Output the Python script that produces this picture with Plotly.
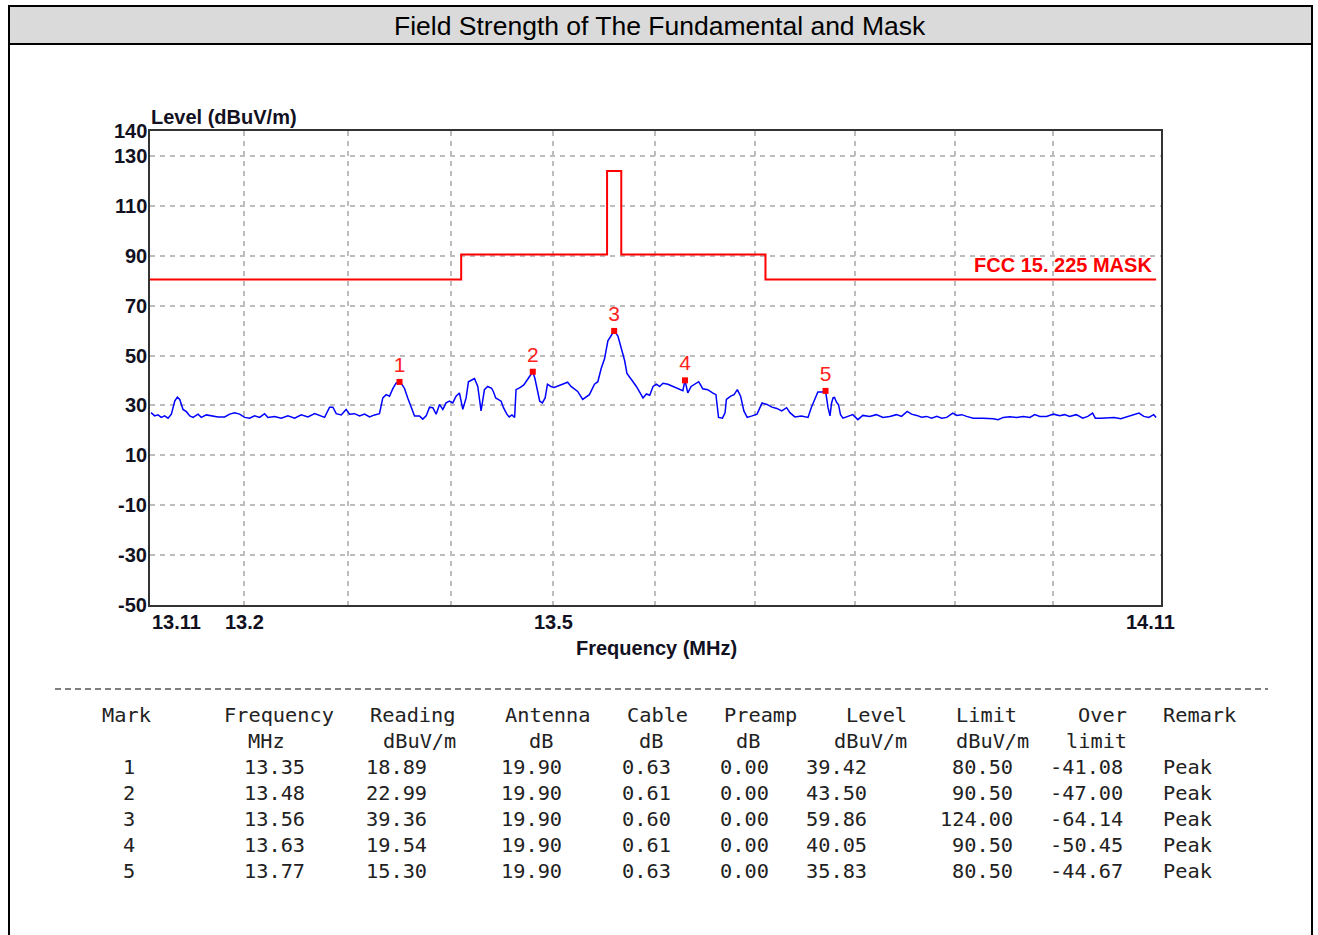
import numpy as np
import plotly.graph_objects as go

# ---------------- data ----------------
freq_mhz = [
    13.1110, 13.1145, 13.1176, 13.1208, 13.1240, 13.1272, 13.1304, 13.1336, 13.1361, 13.1384,
    13.1415, 13.1447, 13.1480, 13.1511, 13.1559, 13.1590, 13.1638, 13.1686, 13.1750, 13.1814,
    13.1862, 13.1910, 13.1957, 13.2005, 13.2053, 13.2101, 13.2149, 13.2197, 13.2229, 13.2293,
    13.2357, 13.2421, 13.2486, 13.2550, 13.2614, 13.2679, 13.2727, 13.2775, 13.2823, 13.2855,
    13.2887, 13.2935, 13.2983, 13.3016, 13.3064, 13.3113, 13.3161, 13.3210, 13.3258, 13.3306,
    13.3338, 13.3371, 13.3403, 13.3435, 13.3467, 13.3500, 13.3516, 13.3548, 13.3580, 13.3612,
    13.3646, 13.3694, 13.3726, 13.3759, 13.3792, 13.3824, 13.3856, 13.3889, 13.3921, 13.3953,
    13.3986, 13.4018, 13.4050, 13.4083, 13.4116, 13.4148, 13.4171, 13.4203, 13.4230, 13.4262,
    13.4294, 13.4327, 13.4359, 13.4397, 13.4414, 13.4437, 13.4463, 13.4490, 13.4513, 13.4546,
    13.4569, 13.4596, 13.4622, 13.4636, 13.4679, 13.4712, 13.4745, 13.4778, 13.4800, 13.4821,
    13.4844, 13.4868, 13.4894, 13.4921, 13.4944, 13.4977, 13.5010, 13.5060, 13.5099, 13.5142,
    13.5175, 13.5208, 13.5241, 13.5290, 13.5323, 13.5356, 13.5406, 13.5439, 13.5472, 13.5505,
    13.5538, 13.5571, 13.5600, 13.5637, 13.5670, 13.5703, 13.5726, 13.5753, 13.5786, 13.5819,
    13.5852, 13.5885, 13.5918, 13.5951, 13.5984, 13.6016, 13.6049, 13.6082, 13.6131, 13.6180,
    13.6230, 13.6279, 13.6300, 13.6328, 13.6361, 13.6394, 13.6436, 13.6476, 13.6525, 13.6574,
    13.6607, 13.6633, 13.6672, 13.6698, 13.6711, 13.6754, 13.6787, 13.6820, 13.6852, 13.6885,
    13.6918, 13.6967, 13.7016, 13.7066, 13.7115, 13.7164, 13.7213, 13.7262, 13.7311, 13.7344,
    13.7393, 13.7459, 13.7525, 13.7557, 13.7590, 13.7623, 13.7670, 13.7700, 13.7725, 13.7745,
    13.7760, 13.7775, 13.7790, 13.7810, 13.7830, 13.7850, 13.7875, 13.7923, 13.7973, 13.8024,
    13.8074, 13.8142, 13.8209, 13.8277, 13.8345, 13.8412, 13.8463, 13.8520, 13.8564, 13.8615,
    13.8666, 13.8716, 13.8767, 13.8818, 13.8868, 13.8919, 13.8980, 13.9020, 13.9070, 13.9120,
    13.9187, 13.9288, 13.9390, 13.9440, 13.9491, 13.9558, 13.9626, 13.9693, 13.9761, 13.9811,
    13.9862, 13.9930, 14.0003, 14.0064, 14.0114, 14.0165, 14.0233, 14.0300, 14.0351, 14.0400,
    14.0428, 14.0485, 14.0553, 14.0620, 14.0688, 14.0755, 14.0823, 14.0874, 14.0924, 14.0975,
    14.1025, 14.1050,
]
level_dbuv = [
    27.1, 25.8, 26.2, 25.2, 25.8, 24.9, 26.5, 31.7, 33.3, 32.4,
    28.4, 27.5, 25.8, 25.2, 26.5, 25.2, 26.2, 25.8, 25.4, 25.4,
    26.5, 27.1, 26.5, 25.2, 24.9, 25.8, 25.2, 26.7, 25.2, 25.6,
    24.9, 25.8, 24.9, 26.2, 25.4, 26.7, 25.8, 25.2, 29.3, 29.3,
    26.7, 26.2, 28.4, 26.5, 26.7, 25.8, 26.5, 25.4, 26.2, 26.7,
    33.0, 34.3, 33.7, 36.7, 38.9, 39.42, 38.9, 36.9, 33.0, 29.3,
    25.8, 25.8, 24.5, 25.8, 29.3, 29.1, 26.5, 30.4, 28.4, 31.0,
    31.7, 31.0, 33.7, 35.0, 28.4, 33.0, 39.5, 40.2, 40.8, 37.6,
    27.8, 36.3, 37.6, 36.9, 35.6, 33.0, 32.4, 31.7, 29.1, 26.5,
    25.4, 26.2, 25.2, 36.3, 37.2, 38.2, 40.2, 41.9, 43.5, 40.8,
    35.6, 31.7, 31.0, 33.0, 38.5, 37.6, 37.2, 38.0, 38.5, 39.3,
    37.6, 36.7, 35.6, 32.4, 33.3, 34.3, 38.5, 39.5, 44.8, 48.7,
    55.9, 58.1, 59.86, 57.8, 52.6, 48.0, 42.8, 41.5, 39.5, 37.6,
    35.0, 33.0, 34.6, 34.1, 37.6, 38.5, 37.6, 38.9, 38.5, 37.6,
    36.7, 35.9, 40.05, 35.0, 37.6, 38.5, 39.5, 36.7, 36.3, 35.0,
    34.3, 25.2, 24.9, 27.1, 32.4, 33.7, 34.3, 36.3, 33.7, 27.8,
    25.2, 25.8, 26.5, 31.0, 30.4, 29.3, 28.8, 27.8, 29.1, 27.1,
    25.4, 25.8, 25.2, 29.1, 32.0, 35.4, 35.4, 35.83, 29.1, 25.8,
    30.9, 33.0, 33.2, 31.3, 30.3, 26.3, 24.9, 25.6, 26.3, 24.3,
    26.0, 25.6, 26.3, 25.2, 25.6, 26.3, 25.6, 27.6, 26.5, 26.0,
    25.3, 25.6, 24.9, 25.6, 24.9, 25.2, 26.9, 26.0, 26.3, 25.6,
    24.9, 24.9, 24.7, 24.3, 25.2, 25.5, 25.2, 25.6, 25.2, 26.3,
    25.6, 25.6, 26.5, 25.9, 26.3, 25.6, 26.3, 24.9, 25.6, 26.9,
    24.9, 24.9, 24.9, 25.2, 24.7, 25.6, 26.3, 26.9, 25.6, 25.2,
    26.3, 25.2,
]

# FCC 15.225 mask (step edges)
mask_freq = [13.110, 13.410, 13.553, 13.567, 13.710, 14.105]
mask_level = [80.5, 90.5, 124.0, 90.5, 80.5, 80.5]
mask_label = "FCC 15. 225 MASK"

# Marker table
mark = [1, 2, 3, 4, 5]
mark_freq = [13.35, 13.48, 13.56, 13.63, 13.77]
reading = [18.89, 22.99, 39.36, 19.54, 15.30]
antenna = [19.90, 19.90, 19.90, 19.90, 19.90]
cable = [0.63, 0.61, 0.60, 0.61, 0.63]
preamp = [0.00, 0.00, 0.00, 0.00, 0.00]
mark_level = [39.42, 43.50, 59.86, 40.05, 35.83]
limit = [80.50, 90.50, 124.00, 90.50, 80.50]
over_limit = [-41.08, -47.00, -64.14, -50.45, -44.67]
remark = ["Peak", "Peak", "Peak", "Peak", "Peak"]

x_tick_vals = [13.2, 13.3, 13.4, 13.5, 13.6, 13.7, 13.8, 13.9, 14.0]
x_label_vals = [13.11, 13.2, 13.5, 14.11]
y_tick_vals = [-50, -30, -10, 10, 30, 50, 70, 90, 110, 130, 140]

title_text = "Field Strength of The Fundamental and Mask"

# ---------------- layout helpers ----------------
# the page margin is removed (see post_script), so figure pixels == screen pixels
W, H = 1318, 935
L, R, T, B = 150, 1161, 131, 605   # plot area in screen pixels


def px(x):
    return (x - L) / (R - L)


def py(y):
    return (B - y) / (B - T)


SANS = "Liberation Sans, Arial, sans-serif"
MONO = "DejaVu Sans Mono, monospace"
AXIS_TXT = "#111122"

fig = go.Figure()

fig.add_trace(go.Scatter(
    x=mask_freq, y=mask_level, mode="lines", line=dict(color="#ff0000", width=2, shape="hv"),
    hoverinfo="skip", showlegend=False))

fig.add_trace(go.Scatter(
    x=freq_mhz, y=level_dbuv, mode="lines", line=dict(color="#0000ff", width=1.5),
    showlegend=False))

fig.add_trace(go.Scatter(
    x=mark_freq, y=mark_level, mode="markers+text",
    marker=dict(symbol="square", size=6, color="#ff0000"),
    text=[str(m) for m in mark], textposition="top center",
    textfont=dict(family=SANS, size=21, color="#ff2020"),
    showlegend=False))

annotations = []
# mask label
annotations.append(dict(x=np.log10(mask_freq[-1]), y=mask_level[-1], xref="x", yref="y",
                        text=mask_label, showarrow=False, xanchor="right", yanchor="bottom",
                        xshift=-2, yshift=1,
                        font=dict(family=SANS, size=20, color="#ff0000", weight="bold")))
# x tick labels
for v in x_label_vals:
    if v == x_label_vals[0]:
        anchor, shift = "left", 0
    elif v == x_label_vals[-1]:
        anchor, shift = "right", 16
    else:
        anchor, shift = "center", 0
    annotations.append(dict(x=np.log10(v), y=py(622), xref="x", yref="paper", text=f"{v:g}",
                            showarrow=False, xanchor=anchor, yanchor="middle", xshift=shift,
                            font=dict(family=SANS, size=20, color=AXIS_TXT, weight="bold")))
# y tick labels
for v in y_tick_vals:
    annotations.append(dict(x=px(149), y=v, xref="paper", yref="y", text=str(v),
                            showarrow=False, xanchor="right", yanchor="middle",
                            font=dict(family=SANS, size=20, color=AXIS_TXT, weight="bold")))
# axis titles
annotations.append(dict(x=px(149), y=py(117), xref="paper", yref="paper", text="Level (dBuV/m)",
                        showarrow=False, xanchor="left", yanchor="middle",
                        font=dict(family=SANS, size=20, color=AXIS_TXT, weight="bold")))
annotations.append(dict(x=px(656), y=py(648), xref="paper", yref="paper", text="Frequency (MHz)",
                        showarrow=False, xanchor="center", yanchor="middle",
                        font=dict(family=SANS, size=20, color=AXIS_TXT, weight="bold")))
# title
annotations.append(dict(x=px(660), y=py(26), xref="paper", yref="paper", text=title_text,
                        showarrow=False, xanchor="center", yanchor="middle",
                        font=dict(family=SANS, size=26.5, color="#000000")))

# table
CW = 12.2
X0 = 100


def cell(text, col, row_y, anchor="left"):
    annotations.append(dict(x=px(X0 + col * CW), y=py(row_y), xref="paper", yref="paper",
                            text=text, showarrow=False, xanchor=anchor, yanchor="middle",
                            font=dict(family=MONO, size=20.3, color="#222222")))


header1 = [("Mark", 0), ("Frequency", 10), ("Reading", 22), ("Antenna", 33), ("Cable", 43),
           ("Preamp", 51), ("Level", 61), ("Limit", 70), ("Over", 80), ("Remark", 87)]
header2 = [("MHz", 12), ("dBuV/m", 23), ("dB", 35), ("dB", 44), ("dB", 52), ("dBuV/m", 60),
           ("dBuV/m", 70), ("limit", 79)]
for t, c in header1:
    cell(t, c, 715)
for t, c in header2:
    cell(t, c, 741)

value_cols = [
    ([str(m) for m in mark], 3),
    ([f"{v:.2f}" for v in mark_freq], 17),
    ([f"{v:.2f}" for v in reading], 27),
    ([f"{v:.2f}" for v in antenna], 38),
    ([f"{v:.2f}" for v in cable], 47),
    ([f"{v:.2f}" for v in preamp], 55),
    ([f"{v:.2f}" for v in mark_level], 63),
    ([f"{v:.2f}" for v in limit], 75),
    ([f"{v:.2f}" for v in over_limit], 84),
]
for i in range(len(mark)):
    ry = 767 + 26 * i
    for vals, end_col in value_cols:
        cell(vals[i], end_col, ry, anchor="right")
    cell(remark[i], 87, ry)

shapes = [
    # title bar
    dict(type="rect", xref="paper", yref="paper", x0=px(9), x1=px(1312), y0=py(44), y1=py(6),
         fillcolor="#dadada", line=dict(color="#000000", width=2), layer="below"),
    # outer frame
    dict(type="rect", xref="paper", yref="paper", x0=px(9), x1=px(1312), y0=py(945), y1=py(6),
         fillcolor="rgba(0,0,0,0)", line=dict(color="#000000", width=2)),
    # table separator
    dict(type="line", xref="paper", yref="paper", x0=px(55), x1=px(1268), y0=py(689), y1=py(689),
         line=dict(color="#555555", width=1.5, dash="6px,4px")),
]

fig.update_layout(
    width=W, height=H, autosize=False,
    margin=dict(l=L, r=W - R, t=T, b=H - B, pad=0),
    paper_bgcolor="#ffffff", plot_bgcolor="#ffffff",
    annotations=annotations, shapes=shapes, showlegend=False,
    font=dict(family=SANS),
)
fig.update_xaxes(
    type="log", range=[np.log10(13.11), np.log10(14.11)],
    tickvals=x_tick_vals, showticklabels=False, ticks="",
    showgrid=True, gridcolor="#bdbdbd", gridwidth=1.5, griddash="5px,5px",
    showline=True, mirror=True, linecolor="#333333", linewidth=2, zeroline=False,
)
fig.update_yaxes(
    range=[-50, 140], tickvals=y_tick_vals, showticklabels=False, ticks="",
    showgrid=True, gridcolor="#bdbdbd", gridwidth=1.5, griddash="5px,5px",
    showline=True, mirror=True, linecolor="#333333", linewidth=2, zeroline=False,
)

fig.write_html(
    "out.html",
    config={"displayModeBar": False},
    post_script="document.body.style.margin='0px';"
                "document.documentElement.style.overflow='hidden';"
                "document.body.style.overflow='hidden';",
)
